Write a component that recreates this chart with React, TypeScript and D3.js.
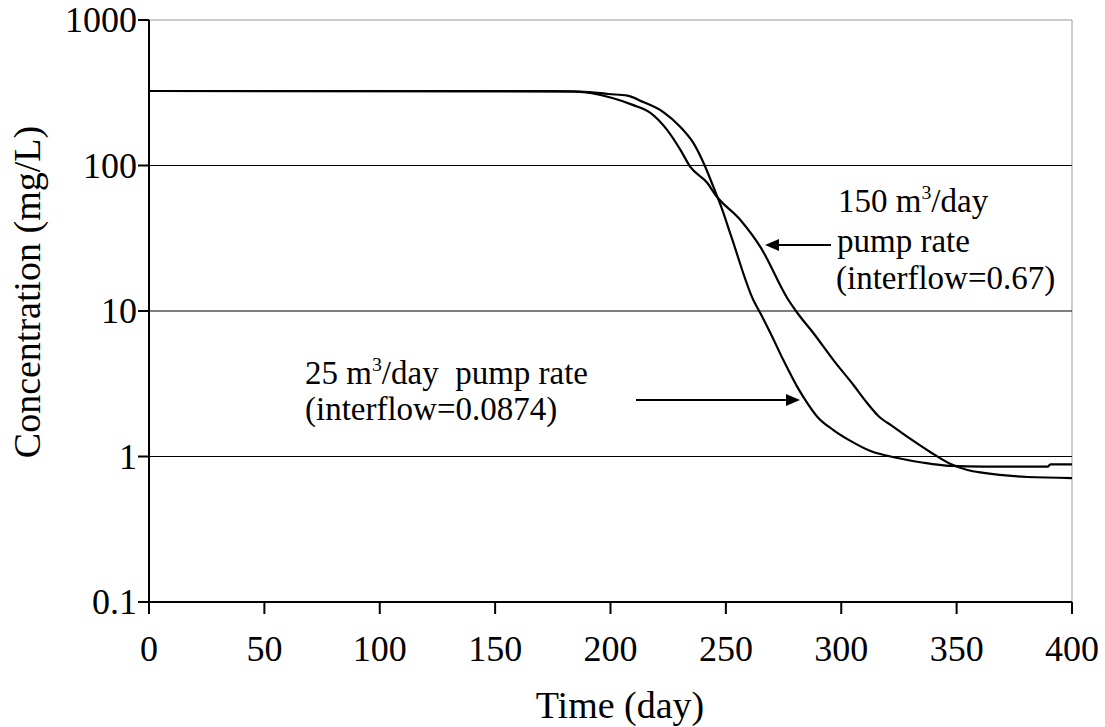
import React from "react";
import * as d3 from "d3";

// Time (day) and concentration (mg/L)
const days25 = [0, 175, 191, 199, 207.3, 214.2, 222.9, 230.3, 235.9, 241.1, 244.6, 248.0, 252.4, 261.9, 264.9, 269.3, 274.9, 281.0, 285.3, 289.7, 296.6, 304.0, 312.7, 324.4, 335.6, 347.4, 361.7, 389.4, 390.7, 400];
const conc25 = [325, 325, 320, 310, 302, 273, 233, 184, 143, 97.7, 71.2, 51.9, 32.3, 11.9, 9.69, 7.06, 4.6, 3.0, 2.33, 1.87, 1.52, 1.28, 1.09, 0.977, 0.906, 0.861, 0.851, 0.851, 0.884, 0.884];

const days150 = [0, 185, 200.8, 209.9, 217.3, 224.6, 230.3, 234.6, 242.0, 245.5, 256.3, 265.0, 277.1, 281.0, 287.9, 296.6, 305.3, 310.5, 316.1, 322.6, 330.0, 338.7, 347.4, 354.7, 361.7, 380.7, 400];
const conc150 = [325, 322, 291, 260, 230, 175, 128, 97.7, 75.8, 62.7, 42.2, 27.5, 11.9, 9.69, 7.06, 4.6, 3.1, 2.41, 1.9, 1.6, 1.32, 1.07, 0.888, 0.807, 0.771, 0.723, 0.711];

const xTicks = [0, 50, 100, 150, 200, 250, 300, 350, 400];
const yTicks = [0.1, 1, 10, 100, 1000];
const yTickLabels = ["0.1", "1", "10", "100", "1000"];
const gridValues = [1, 10, 100];

const W = 1105;
const H = 727;
const FONT = "'Liberation Serif', 'Times New Roman', serif";
const FS_TICK = 36;
const FS_TITLE = 38;
const FS_NOTE = 33;

export default function App() {
  const x = d3.scaleLinear().domain([0, 400]).range([149, 1072]);
  const y = d3.scaleLog().domain([0.1, 1000]).range([602, 20]);

  const line = d3
    .line<[number, number]>()
    .x((d) => x(d[0]))
    .y((d) => y(d[1]))
    .curve(d3.curveMonotoneX);

  const s25 = days25.map((d, i) => [d, conc25[i]] as [number, number]);
  const s150 = days150.map((d, i) => [d, conc150[i]] as [number, number]);

  const arrow = (x1: number, x2: number, yy: number) => {
    const dir = x2 > x1 ? 1 : -1;
    const len = 14;
    const hw = 6;
    return (
      <g>
        <line x1={x1} y1={yy} x2={x2 - dir * len} y2={yy} stroke="#000" strokeWidth={2} />
        <path
          d={`M${x2},${yy} L${x2 - dir * len},${yy - hw} L${x2 - dir * len},${yy + hw} Z`}
          fill="#000"
        />
      </g>
    );
  };

  return (
    <svg
      width={W}
      height={H}
      style={{ position: "absolute", left: 0, top: 0, background: "#fff" }}
      fontFamily={FONT}
    >
      <rect x={0} y={0} width={W} height={H} fill="#fff" />
      {/* plot border (grey) */}
      <line x1={x(0)} y1={y(1000)} x2={x(400)} y2={y(1000)} stroke="#999" strokeWidth={1} />
      <line x1={x(400)} y1={y(1000)} x2={x(400)} y2={y(0.1)} stroke="#999" strokeWidth={1} />
      {/* gridlines */}
      {gridValues.map((v) => (
        <line key={v} x1={x(0)} x2={x(400)} y1={y(v)} y2={y(v)} stroke="#000" strokeWidth={1.2} />
      ))}
      {/* axes */}
      <line x1={x(0)} y1={y(1000)} x2={x(0)} y2={y(0.1)} stroke="#000" strokeWidth={2} />
      <line x1={x(0)} y1={y(0.1)} x2={x(400)} y2={y(0.1)} stroke="#000" strokeWidth={2} />
      {yTicks.map((v, i) => (
        <g key={v}>
          <line x1={x(0) - 11} x2={x(0)} y1={y(v)} y2={y(v)} stroke="#000" strokeWidth={2} />
          <text
            x={x(0) - 12}
            y={y(v) + 12}
            textAnchor="end"
            fontSize={FS_TICK}
          >
            {yTickLabels[i]}
          </text>
        </g>
      ))}
      {xTicks.map((v) => (
        <g key={v}>
          <line x1={x(v)} x2={x(v)} y1={y(0.1)} y2={y(0.1) + 12} stroke="#000" strokeWidth={2} />
          <text x={x(v)} y={661} textAnchor="middle" fontSize={FS_TICK}>
            {v}
          </text>
        </g>
      ))}
      <text x={620} y={718} textAnchor="middle" fontSize={FS_TITLE}>
        Time (day)
      </text>
      <text
        transform={`translate(40,${292}) rotate(-90)`}
        textAnchor="middle"
        fontSize={FS_TITLE}
      >
        Concentration (mg/L)
      </text>

      {/* curves */}
      <path d={line(s150) || ""} fill="none" stroke="#000" strokeWidth={2.2} />
      <path d={line(s25) || ""} fill="none" stroke="#000" strokeWidth={2.2} />

      {/* annotations */}
      <text x={838} y={212} fontSize={FS_NOTE}>
        150 m<tspan dy={-13} fontSize={FS_NOTE * 0.6}>3</tspan>
        <tspan dy={13}>/day</tspan>
      </text>
      <text x={837} y={252} fontSize={FS_NOTE}>
        pump rate
      </text>
      <text x={836} y={289} fontSize={FS_NOTE}>
        (interflow=0.67)
      </text>
      {arrow(831, 765, 245)}

      <text x={305} y={384} fontSize={FS_NOTE}>
        25 m<tspan dy={-13} fontSize={FS_NOTE * 0.6}>3</tspan>
        <tspan dy={13}>/day{"\u00a0\u00a0"}pump rate</tspan>
      </text>
      <text x={305} y={420} fontSize={FS_NOTE}>
        (interflow=0.0874)
      </text>
      {arrow(636, 800, 400)}
    </svg>
  );
}
